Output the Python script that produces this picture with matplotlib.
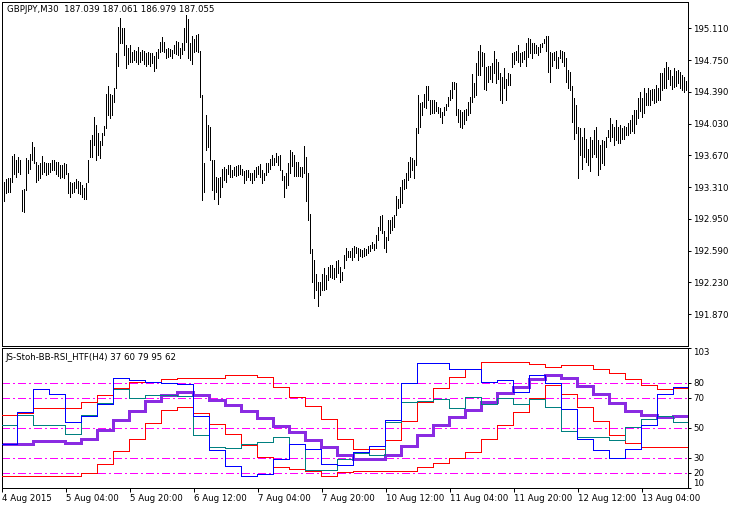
import numpy as np
import matplotlib
matplotlib.use("Agg")
import matplotlib.pyplot as plt

# ---------------- data (GBPJPY M30) ----------------
price_high = [
    193.39, 193.37, 193.40, 193.41, 193.42, 193.66, 193.69, 193.62, 193.65, 193.62,
    193.28, 193.29, 193.64, 193.62, 193.69, 193.82, 193.77, 193.60, 193.56, 193.58,
    193.66, 193.60, 193.58, 193.59, 193.58, 193.62, 193.62, 193.60, 193.60, 193.56,
    193.56, 193.58, 193.57, 193.47, 193.37, 193.36, 193.37, 193.40, 193.38, 193.37,
    193.33, 193.30, 193.36, 193.62, 193.85, 193.90, 194.11, 194.01, 193.92, 193.83,
    193.93, 194.00, 194.37, 194.46, 194.37, 194.35, 194.44, 194.83, 195.13, 195.23,
    195.11, 195.12, 194.92, 194.89, 194.92, 194.84, 194.87, 194.86, 194.90, 194.84,
    194.87, 194.86, 194.83, 194.84, 194.83, 194.83, 194.80, 194.84, 194.88, 194.96,
    195.01, 194.96, 194.88, 194.89, 194.88, 194.87, 194.92, 194.97, 194.96, 194.89,
    194.95, 195.11, 195.26, 195.22, 194.95, 195.02, 194.99, 195.04, 195.05, 194.86,
    194.35, 193.58, 194.13, 194.01, 193.99, 193.62, 193.62, 193.43, 193.41, 193.43,
    193.52, 193.54, 193.52, 193.56, 193.56, 193.51, 193.54, 193.55, 193.56, 193.56,
    193.52, 193.49, 193.51, 193.50, 193.47, 193.47, 193.51, 193.54, 193.55, 193.57,
    193.50, 193.47, 193.58, 193.58, 193.63, 193.67, 193.64, 193.70, 193.66, 193.67,
    193.50, 193.44, 193.47, 193.58, 193.73, 193.71, 193.67, 193.60, 193.60, 193.54,
    193.54, 193.78, 193.65, 193.47, 193.01, 192.61, 192.48, 192.33, 192.23, 192.24,
    192.33, 192.39, 192.31, 192.41, 192.43, 192.43, 192.39, 192.47, 192.48, 192.41,
    192.35, 192.54, 192.62, 192.59, 192.59, 192.62, 192.64, 192.63, 192.62, 192.61,
    192.60, 192.62, 192.61, 192.64, 192.65, 192.69, 192.67, 192.77, 192.86, 192.98,
    192.99, 192.81, 192.75, 192.94, 192.94, 192.97, 192.99, 193.21, 193.18, 193.31,
    193.39, 193.40, 193.47, 193.60, 193.65, 193.64, 193.62, 193.98, 194.35, 194.27,
    194.28, 194.37, 194.46, 194.46, 194.30, 194.30, 194.30, 194.28, 194.22, 194.21,
    194.16, 194.22, 194.25, 194.33, 194.41, 194.50, 194.50, 194.49, 194.20, 194.18,
    194.16, 194.18, 194.20, 194.28, 194.33, 194.59, 194.49, 194.72, 194.86, 194.92,
    194.84, 194.83, 194.67, 194.69, 194.69, 194.72, 194.86, 194.76, 194.73, 194.61,
    194.56, 194.66, 194.54, 194.60, 194.59, 194.83, 194.84, 194.86, 194.92, 194.83,
    194.84, 194.86, 194.94, 195.00, 194.99, 194.94, 194.94, 194.92, 194.90, 194.93,
    194.94, 194.99, 195.03, 195.03, 194.84, 194.83, 194.84, 194.86, 194.79, 194.87,
    194.86, 194.84, 194.77, 194.64, 194.62, 194.46, 194.32, 194.24, 193.99, 193.98,
    193.88, 193.98, 193.86, 193.74, 193.88, 193.85, 193.96, 193.99, 193.85, 193.79,
    193.85, 193.83, 193.88, 193.96, 194.09, 194.03, 193.99, 194.07, 193.99, 194.01,
    193.98, 194.00, 193.99, 194.04, 194.07, 194.13, 194.19, 194.18, 194.32, 194.39,
    194.32, 194.43, 194.38, 194.43, 194.41, 194.42, 194.42, 194.47, 194.43, 194.60,
    194.60, 194.66, 194.73, 194.67, 194.64, 194.57, 194.66, 194.63, 194.64, 194.62,
    194.58, 194.56, 194.52,
]
price_low = [
    193.17, 193.15, 193.24, 193.26, 193.26, 193.37, 193.46, 193.43, 193.48, 193.46,
    193.04, 193.03, 193.28, 193.47, 193.52, 193.62, 193.58, 193.37, 193.39, 193.41,
    193.46, 193.48, 193.45, 193.46, 193.48, 193.50, 193.50, 193.46, 193.44, 193.42,
    193.43, 193.42, 193.46, 193.24, 193.20, 193.25, 193.26, 193.30, 193.25, 193.23,
    193.20, 193.18, 193.18, 193.37, 193.65, 193.65, 193.79, 193.62, 193.67, 193.64,
    193.79, 193.90, 193.98, 194.13, 194.09, 194.13, 194.28, 194.43, 194.68, 194.95,
    194.95, 194.81, 194.66, 194.71, 194.73, 194.73, 194.75, 194.73, 194.71, 194.73,
    194.75, 194.71, 194.69, 194.71, 194.69, 194.72, 194.63, 194.66, 194.77, 194.84,
    194.86, 194.84, 194.77, 194.79, 194.80, 194.78, 194.83, 194.82, 194.81, 194.78,
    194.82, 194.87, 194.96, 194.77, 194.75, 194.71, 194.84, 194.86, 194.84, 194.33,
    193.16, 193.26, 193.73, 193.77, 193.62, 193.28, 193.18, 193.26, 193.12, 193.20,
    193.31, 193.39, 193.37, 193.46, 193.43, 193.43, 193.45, 193.44, 193.45, 193.46,
    193.45, 193.36, 193.39, 193.43, 193.39, 193.36, 193.39, 193.43, 193.46, 193.43,
    193.36, 193.39, 193.45, 193.48, 193.52, 193.56, 193.56, 193.60, 193.56, 193.50,
    193.39, 193.20, 193.30, 193.33, 193.47, 193.55, 193.44, 193.44, 193.44, 193.44,
    193.43, 193.47, 193.15, 192.94, 192.56, 192.24, 192.05, 192.14, 191.96, 192.09,
    192.15, 192.15, 192.16, 192.26, 192.29, 192.28, 192.27, 192.29, 192.34, 192.24,
    192.26, 192.39, 192.48, 192.52, 192.52, 192.49, 192.52, 192.56, 192.48, 192.53,
    192.52, 192.53, 192.54, 192.56, 192.59, 192.62, 192.60, 192.62, 192.71, 192.82,
    192.79, 192.62, 192.58, 192.71, 192.79, 192.82, 192.86, 192.99, 193.07, 193.09,
    193.13, 193.29, 193.30, 193.39, 193.43, 193.50, 193.42, 193.56, 193.93, 193.99,
    194.13, 194.22, 194.21, 194.30, 194.14, 194.15, 194.15, 194.17, 194.15, 194.11,
    194.04, 194.13, 194.18, 194.23, 194.30, 194.32, 194.42, 194.13, 194.05, 193.99,
    193.98, 194.03, 194.07, 194.13, 194.15, 194.28, 194.33, 194.35, 194.58, 194.58,
    194.69, 194.42, 194.41, 194.50, 194.54, 194.50, 194.61, 194.49, 194.54, 194.30,
    194.27, 194.43, 194.30, 194.47, 194.47, 194.67, 194.71, 194.75, 194.73, 194.69,
    194.73, 194.76, 194.69, 194.79, 194.83, 194.77, 194.83, 194.83, 194.81, 194.84,
    194.90, 194.94, 194.86, 194.62, 194.50, 194.69, 194.75, 194.66, 194.66, 194.77,
    194.73, 194.69, 194.50, 194.43, 194.41, 194.05, 193.86, 193.92, 193.41, 193.67,
    193.52, 193.65, 193.60, 193.56, 193.49, 193.65, 193.69, 193.65, 193.45, 193.52,
    193.58, 193.56, 193.77, 193.88, 193.83, 193.88, 193.79, 193.84, 193.81, 193.81,
    193.86, 193.86, 193.90, 193.90, 193.92, 193.95, 193.92, 194.03, 194.09, 194.17,
    194.11, 194.15, 194.24, 194.24, 194.24, 194.30, 194.26, 194.28, 194.30, 194.30,
    194.41, 194.43, 194.43, 194.54, 194.47, 194.42, 194.45, 194.46, 194.49, 194.44,
    194.41, 194.39, 194.41,
]

# H4 values of the indicator, one per 8 M30 bars
stoch_main = [
    39.3, 60.5, 75.5, 72.5, 53.5, 58.0, 66.0, 82.8, 82.0, 80.3, 79.5, 78.7, 57.6, 34.7,
    24.2, 18.0, 19.1, 29.3, 39.1, 36.0, 25.8, 25.3, 33.8, 37.7, 55.0, 79.5, 93.2, 93.2,
    88.8, 89.2, 80.3, 82.0, 73.7, 85.2, 80.0, 62.5, 42.5, 35.3, 29.4, 35.6, 51.4, 72.1,
    76.8,
]
stoch_signal = [
    52.0, 58.5, 52.0, 52.0, 45.5, 58.5, 66.5, 75.5, 70.0, 71.5, 72.0, 71.3, 44.8, 37.0,
    36.5, 38.7, 40.4, 44.0, 38.7, 21.8, 21.8, 29.0, 33.0, 32.0, 53.5, 67.0, 67.5, 68.8,
    62.7, 70.5, 65.5, 70.0, 66.0, 69.3, 64.0, 47.5, 43.5, 43.8, 41.5, 50.5, 55.9, 57.7,
    54.0,
]
bb_upper = [
    58.5, 60.0, 63.3, 63.3, 63.3, 67.0, 72.0, 76.3, 80.5, 80.5, 82.5, 82.8, 83.0, 83.0,
    85.2, 85.2, 83.8, 77.3, 70.4, 64.3, 55.5, 42.3, 35.5, 35.5, 41.5, 54.5, 67.3, 76.6,
    83.5, 89.2, 93.5, 93.8, 93.5, 92.2, 90.4, 91.6, 91.6, 89.2, 86.5, 82.1, 78.3, 76.0,
    76.6,
]
bb_lower = [
    18.0, 18.0, 18.0, 18.0, 18.0, 20.0, 26.0, 34.3, 42.5, 53.2, 61.6, 63.5, 59.5, 52.5,
    46.0, 38.5, 30.5, 23.8, 22.5, 21.0, 18.0, 20.3, 21.0, 21.2, 21.2, 21.2, 23.4, 26.3,
    29.6, 33.9, 42.5, 51.4, 60.6, 69.9, 78.3, 72.5, 63.5, 54.1, 44.9, 39.5, 37.2, 37.2,
    37.2,
]
rsi = [
    39.3, 39.3, 40.9, 40.9, 39.8, 42.2, 48.2, 54.7, 61.1, 67.6, 72.0, 73.6, 72.0, 68.2,
    65.3, 60.9, 56.4, 50.9, 47.1, 42.0, 36.9, 31.6, 29.1, 29.1, 32.0, 38.0, 45.3, 52.0,
    56.9, 62.0, 67.1, 73.1, 77.0, 82.2, 84.8, 82.8, 77.7, 72.6, 66.2, 61.0, 58.2, 57.2,
    57.7,
]
levels = [80, 70, 50, 30, 20]

price_ticks = [195.110, 194.750, 194.390, 194.030, 193.670, 193.310,
               192.950, 192.590, 192.230, 191.870]
ind_ticks = [103, 80, 70, 50, 30, 20, 10]
time_ticks = [0, 32, 64, 96, 128, 160, 192, 224, 256, 288, 320]
time_labels = ["4 Aug 2015", "5 Aug 04:00", "5 Aug 20:00", "6 Aug 12:00",
               "7 Aug 04:00", "7 Aug 20:00", "10 Aug 12:00", "11 Aug 04:00",
               "11 Aug 20:00", "12 Aug 12:00", "13 Aug 04:00"]

# ---------------- figure ----------------
W, H = 740, 508
plt.rcParams['font.family'] = ['DejaVu Sans']
FS = 6.2
PX = 72 / 100  # one pixel in points

fig = plt.figure(figsize=(W / 100, H / 100), dpi=100)
fig.patch.set_facecolor('white')

ax_p = fig.add_axes([2 / W, 1 - 346 / H, 686 / W, 344 / H])
ax_i = fig.add_axes([2 / W, 1 - 488 / H, 686 / W, 140 / H])

n_bars = len(price_high)
x = np.arange(n_bars)

# price bars
ax_p.vlines(x, price_low, price_high, colors='black', linewidth=PX, antialiased=False)
ax_p.set_xlim(0, 343)
ax_p.set_ylim(191.51, 195.41)

# indicator steps (H4 values held over their 8 M30 bars)
edges = np.append(np.arange(len(rsi)) * 8 - 0.5, n_bars - 0.5)
for lv in levels:
    ax_i.axhline(lv, color='#ff00ff', linewidth=PX, dashes=(8, 3, 2, 3),
                 antialiased=False, zorder=1)
steps = [
    (bb_upper, '#ff0000', 1, 3),
    (bb_lower, '#ff0000', 1, 3),
    (rsi, '#8a2be2', 3, 2),
    (stoch_signal, '#008080', 1, 4),
    (stoch_main, '#0000ff', 1, 5),
]
for vals, col, lw, z in steps:
    ax_i.plot(edges, np.append(vals, vals[-1]), drawstyle='steps-post',
              color=col, linewidth=lw * PX, zorder=z, antialiased=False)
ax_i.set_xlim(0, 343)
ax_i.set_ylim(9.67, 103)

for ax in (ax_p, ax_i):
    for sp in ax.spines.values():
        sp.set_linewidth(PX)
        sp.set_color('black')
    ax.yaxis.tick_right()
    ax.tick_params(axis='y', direction='out', length=3 * PX, width=PX,
                   labelsize=FS, pad=1.5, colors='black')

ax_p.set_xticks([])
ax_p.set_yticks(price_ticks)
ax_p.set_yticklabels([f"{v:.3f}" for v in price_ticks])

ax_i.set_yticks(ind_ticks)
ax_i.set_yticklabels([str(v) for v in ind_ticks])
lbls = ax_i.get_yticklabels()
lbls[0].set_va('top')
lbls[-1].set_va('bottom')

ax_i.set_xticks(time_ticks)
ax_i.set_xticklabels(time_labels, ha='left')
ax_i.tick_params(axis='x', direction='out', length=4 * PX, width=PX,
                 labelsize=FS, pad=1.5)

fig.text(7 / W, 1 - 9 / H, "GBPJPY,M30  187.039 187.061 186.979 187.055",
         fontsize=FS, va='center', ha='left')
fig.text(5 / W, 1 - 357 / H, "JS-Stoh-BB-RSI_HTF(H4) 37 60 79 95 62",
         fontsize=FS, va='center', ha='left')

fig.savefig("out.png", dpi=100)
